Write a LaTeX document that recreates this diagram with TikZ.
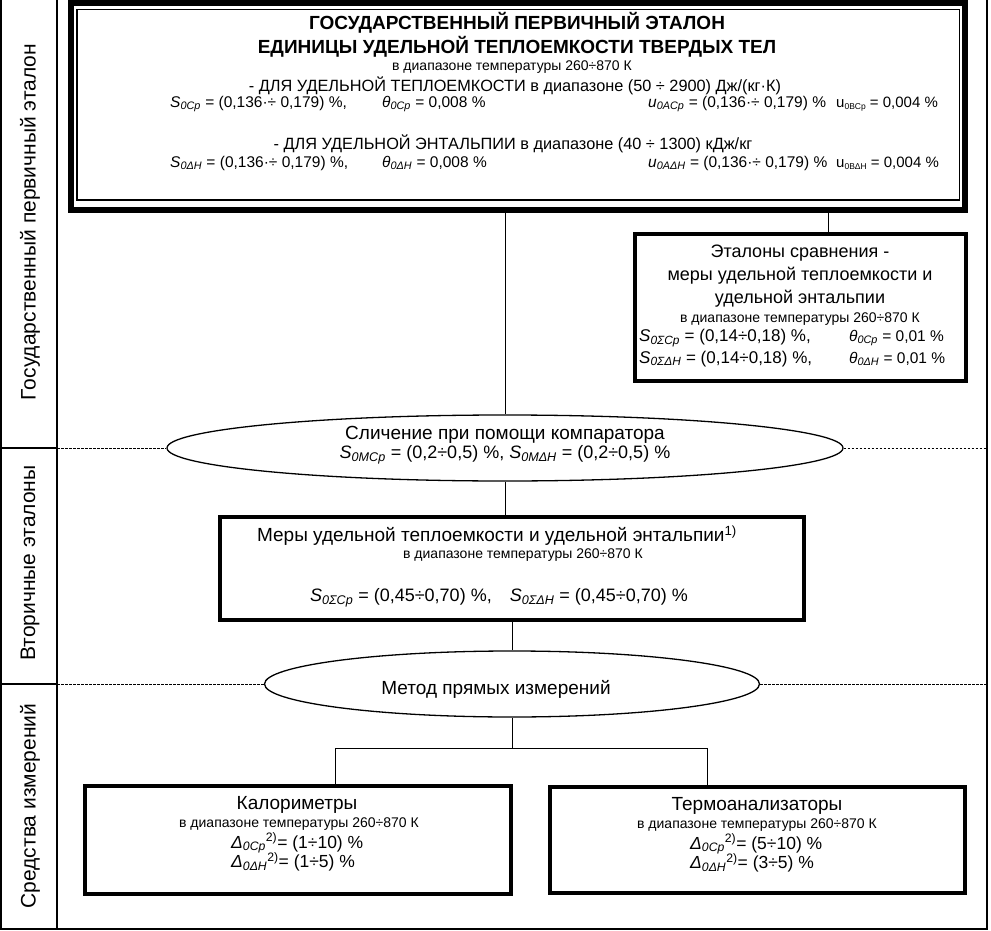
\documentclass[tikz,border=0pt]{standalone}
\usepackage{fontspec}
\setmainfont{Liberation Sans}
\usetikzlibrary{shapes.geometric,calc}
\newcommand{\mylo}[1]{\textsubscript{#1}}
\newcommand{\mytiny}[1]{\raisebox{-0.25ex}{\fontsize{8.5}{9}\selectfont #1}}
\newcommand{\myhi}[1]{\textsuperscript{#1}}
\begin{document}
\begin{tikzpicture}[x=1pt,y=-1pt,
  frameln/.style={line width=1.2pt},
  conn/.style={line width=1pt},
  sepln/.style={line width=0.8pt, dash pattern=on 2.5pt off 1.5pt},
  boxn/.style={draw, line width=3.5pt, inner sep=0pt},
  elln/.style={draw, ellipse, line width=1.3pt, inner sep=0pt},
  tx/.style={inner sep=0pt, align=center},
  maintx/.style={tx, font=\fontsize{19}{22}\selectfont},
  etx/.style={tx, font=\fontsize{18}{21}\selectfont},
  toptx/.style={tx, font=\fontsize{16.3}{19}\selectfont},
  smalltx/.style={tx, font=\fontsize{14}{16}\selectfont},
  titletx/.style={tx, font=\bfseries\fontsize{19}{22}\selectfont},
  formtx/.style={tx, font=\fontsize{15.5}{18}\selectfont},
  formstx/.style={tx, font=\fontsize{15}{17}\selectfont},
  formmtx/.style={tx, font=\fontsize{17}{20}\selectfont},
  formdtx/.style={tx, font=\fontsize{17.5}{20}\selectfont},
  formbtx/.style={tx, font=\fontsize{18}{21}\selectfont},
  labeltx/.style={tx, rotate=90, font=\fontsize{21}{24}\selectfont}
]
\useasboundingbox (0,0) rectangle (991,931);
\fill[white] (0,0) rectangle (991,931);

% frame
\draw[frameln] (1,0) -- (1,929) -- (987,929) -- (987,0);
\draw[frameln] (57,0) -- (57,929);

% left labels
\node[labeltx] (lab1) at (30,222) {Государственный первичный эталон};
\node[labeltx] (lab2) at (30,563) {Вторичные эталоны};
\node[labeltx] (lab3) at (30,806) {Средства измерений};

% top box
\node[draw, line width=6pt, minimum width=894pt, minimum height=207pt, inner sep=0pt] (top) at (518,106.5) {};
\draw[line width=1.5pt] (77,9.5) rectangle (959.5,200);
\node[titletx] (t1) at (517,23) {ГОСУДАРСТВЕННЫЙ ПЕРВИЧНЫЙ ЭТАЛОН};
\node[titletx] (t2) at (517,47) {ЕДИНИЦЫ УДЕЛЬНОЙ ТЕПЛОЕМКОСТИ ТВЕРДЫХ ТЕЛ};
\node[smalltx] (t3) at (512,67) {в диапазоне температуры 260÷870 К};
\node[toptx] (t4) at (515,86) {- ДЛЯ УДЕЛЬНОЙ ТЕПЛОЕМКОСТИ в диапазоне (50 ÷ 2900) Дж/(кг·К)};
\node[formtx, anchor=west] (t5a) at (170,104) {\textit{S\mylo{0Cp}} = (0,136·÷ 0,179) \%,};
\node[formtx, anchor=west] (t5b) at (382,104) {\textit{θ\mylo{0Cp}} = 0,008 \%};
\node[formtx, anchor=west] (t5c) at (648,104) {\textit{u\mylo{0ACp}} = (0,136·÷ 0,179) \%};
\node[formstx, anchor=west] (t5d) at (836,104) {u\mytiny{0BCp} = 0,004 \%};
\node[toptx] (t6) at (513,144) {- ДЛЯ УДЕЛЬНОЙ ЭНТАЛЬПИИ в диапазоне (40 ÷ 1300) кДж/кг};
\node[formtx, anchor=west] (t7a) at (170,163) {\textit{S\mylo{0ΔH}} = (0,136·÷ 0,179) \%,};
\node[formtx, anchor=west] (t7b) at (382,163) {\textit{θ\mylo{0ΔH}} = 0,008 \%};
\node[formtx, anchor=west] (t7c) at (648,163) {\textit{u\mylo{0AΔH}} = (0,136·÷ 0,179) \%};
\node[formstx, anchor=west] (t7d) at (836,163) {u\mytiny{0BΔH} = 0,004 \%};

% comparison standards box
\node[boxn, minimum width=331pt, minimum height=147pt] (etal) at (800.5,307.5) {};
\node[etx] (e1) at (800,253) {Эталоны сравнения -};
\node[etx] (e2) at (800,276) {меры удельной теплоемкости и};
\node[etx] (e3) at (800,299) {удельной энтальпии};
\node[smalltx] (e4) at (800,319) {в диапазоне температуры 260÷870 К};
\node[formmtx, anchor=west] (e5a) at (639,338) {\textit{S\mylo{0ΣCp}} = (0,14÷0,18) \%,};
\node[formtx, anchor=west] (e5b) at (849,338) {\textit{θ\mylo{0Cp}} = 0,01 \%};
\node[formmtx, anchor=west] (e6a) at (639,359) {\textit{S\mylo{0ΣΔH}} = (0,14÷0,18) \%,};
\node[formtx, anchor=west] (e6b) at (849,359) {\textit{θ\mylo{0ΔH}} = 0,01 \%};

% ellipse 1
\node[elln, minimum width=676pt, minimum height=66pt] (ell1) at (505,448) {};
\node[maintx] (c1) at (505,435) {Сличение при помощи компаратора};
\node[formbtx] (c2) at (505,455) {\textit{S\mylo{0MCp}} = (0,2÷0,5) \%, \textit{S\mylo{0MΔH}} = (0,2÷0,5) \%};

% middle box
\node[boxn, minimum width=584pt, minimum height=103pt] (mid) at (512,568.5) {};
\node[maintx] (m1) at (497,536) {Меры удельной теплоемкости и удельной энтальпии\myhi{1)}};
\node[smalltx] (m2) at (523,555) {в диапазоне температуры 260÷870 К};
\node[formbtx] (m3) at (499,598) {\textit{S\mylo{0ΣCp}} = (0,45÷0,70) \%,\quad \textit{S\mylo{0ΣΔH}} = (0,45÷0,70) \%};

% ellipse 2
\node[elln, minimum width=495pt, minimum height=66pt] (ell2) at (512,684) {};
\node[maintx] (d1) at (496,689) {Метод прямых измерений};

% bottom boxes
\node[boxn, minimum width=426pt, minimum height=108pt] (cal) at (298,840) {};
\node[maintx] (k1) at (297,805) {Калориметры};
\node[smalltx] (k2) at (299,824) {в диапазоне температуры 260÷870 К};
\node[formdtx, anchor=west] (k3) at (231,843) {\textit{Δ\mylo{0Cp}}\myhi{2)}= (1÷10) \%};
\node[formdtx, anchor=west] (k4) at (231,862) {\textit{Δ\mylo{0ΔH}}\myhi{2)}= (1÷5) \%};

\node[boxn, minimum width=415pt, minimum height=106pt] (therm) at (757.5,840) {};
\node[maintx] (h1) at (757,806) {Термоанализаторы};
\node[smalltx] (h2) at (757,825) {в диапазоне температуры 260÷870 К};
\node[formdtx, anchor=west] (h3) at (690,844) {\textit{Δ\mylo{0Cp}}\myhi{2)}= (5÷10) \%};
\node[formdtx, anchor=west] (h4) at (690,863) {\textit{Δ\mylo{0ΔH}}\myhi{2)}= (3÷5) \%};

% separators
\draw[frameln] (1,448) -- (57,448);
\draw[sepln] (57,448) -- (ell1.west);
\draw[sepln] (ell1.east) -- (987,448);
\draw[frameln] (1,684) -- (57,684);
\draw[sepln] (57,684) -- (ell2.west);
\draw[sepln] (ell2.east) -- (987,684);

% connectors
\draw[conn] (top.south -| ell1.north) -- (ell1.north);
\draw[conn] (top.south -| 828,0) -- (etal.north -| 828,0);
\draw[conn] (ell1.south) -- (ell1.south |- mid.north);
\draw[conn] (mid.south) -- (ell2.north);
\coordinate (jl) at (335,748);
\coordinate (jr) at (707,748);
\draw[conn] (ell2.south) -- (ell2.south |- jl);
\draw[conn] (jl) -- (jr);
\draw[conn] (jl) -- (jl |- cal.north);
\draw[conn] (jr) -- (jr |- therm.north);
\end{tikzpicture}
\end{document}
